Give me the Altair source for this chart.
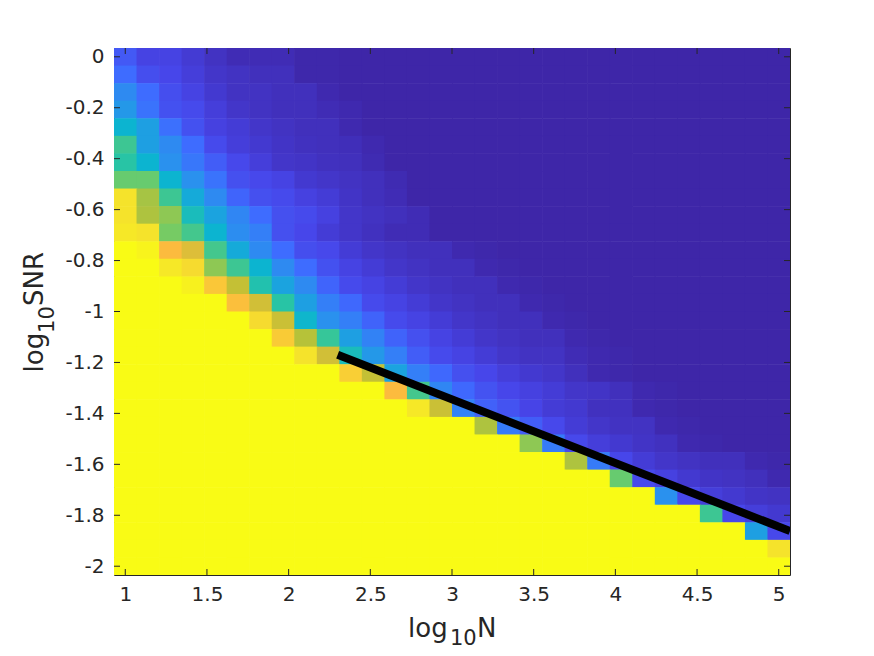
import altair as alt
import pandas as pd

# grid centres (log10 N along x, log10 SNR along y, top row first)
x_centers = [1.0, 1.1379, 1.2759, 1.4138, 1.5517, 1.6897, 1.8276, 1.9655, 2.1034, 2.2414,
             2.3793, 2.5172, 2.6552, 2.7931, 2.9310, 3.0690, 3.2069, 3.3448, 3.4828, 3.6207,
             3.7586, 3.8966, 4.0345, 4.1724, 4.3103, 4.4483, 4.5862, 4.7241, 4.8621, 5.0]
y_centers = [0.0, -0.069, -0.1379, -0.2069, -0.2759, -0.3448, -0.4138, -0.4828, -0.5517, -0.6207,
             -0.6897, -0.7586, -0.8276, -0.8966, -0.9655, -1.0345, -1.1034, -1.1724, -1.2414, -1.3103,
             -1.3793, -1.4483, -1.5172, -1.5862, -1.6552, -1.7241, -1.7931, -1.8621, -1.931, -2.0]

# cell values (one row per y centre, one value per x centre)
prob = [
    [0.15, 0.09, 0.09, 0.065, 0.04, 0.02, 0.02, 0.02, 0.005, 0.005, 0, 0, 0, 0, 0, 0, 0, 0, 0, 0, 0, 0, 0, 0, 0, 0, 0, 0, 0, 0],
    [0.2, 0.12, 0.1, 0.075, 0.05, 0.04, 0.03, 0.03, 0.005, 0.005, 0, 0, 0, 0, 0, 0, 0, 0, 0, 0, 0, 0, 0, 0, 0, 0, 0, 0, 0, 0],
    [0.28, 0.2, 0.12, 0.09, 0.06, 0.04, 0.04, 0.03, 0.03, 0.01, 0, 0, 0, 0, 0, 0, 0, 0, 0, 0, 0, 0, 0, 0, 0, 0, 0, 0, 0, 0],
    [0.32, 0.22, 0.13, 0.11, 0.075, 0.05, 0.04, 0.03, 0.03, 0.02, 0.01, 0, 0, 0, 0, 0, 0, 0, 0, 0, 0, 0, 0, 0, 0, 0, 0, 0, 0, 0],
    [0.4, 0.34, 0.21, 0.13, 0.085, 0.07, 0.05, 0.04, 0.03, 0.03, 0.01, 0, 0, 0, 0, 0, 0, 0, 0, 0, 0, 0, 0, 0, 0, 0, 0, 0, 0, 0],
    [0.53, 0.34, 0.28, 0.2, 0.11, 0.075, 0.06, 0.045, 0.035, 0.03, 0.025, 0.01, 0, 0, 0, 0, 0, 0, 0, 0, 0, 0, 0, 0, 0, 0, 0, 0, 0, 0],
    [0.5, 0.4, 0.3, 0.23, 0.16, 0.105, 0.075, 0.05, 0.045, 0.035, 0.03, 0.015, 0, 0, 0, 0, 0, 0, 0, 0, 0, 0, 0, 0, 0, 0, 0, 0, 0, 0],
    [0.59, 0.59, 0.4, 0.3, 0.22, 0.125, 0.105, 0.09, 0.06, 0.05, 0.04, 0.03, 0.015, 0, 0, 0, 0, 0, 0, 0, 0, 0, 0, 0, 0, 0, 0, 0, 0, 0],
    [0.9, 0.67, 0.53, 0.37, 0.28, 0.18, 0.125, 0.11, 0.085, 0.07, 0.045, 0.03, 0.02, 0, 0, 0, 0, 0, 0, 0, 0, 0, 0, 0, 0, 0, 0, 0, 0, 0],
    [0.9, 0.68, 0.64, 0.45, 0.35, 0.27, 0.2, 0.125, 0.11, 0.085, 0.05, 0.04, 0.03, 0.02, 0, 0, 0, 0, 0, 0, 0, 0, 0, 0, 0, 0, 0, 0, 0, 0],
    [0.92, 0.9, 0.61, 0.54, 0.4, 0.29, 0.25, 0.125, 0.1, 0.07, 0.05, 0.035, 0.02, 0.02, 0, 0, 0, 0, 0, 0, 0, 0, 0, 0, 0, 0, 0, 0, 0, 0],
    [1, 0.97, 0.8, 0.75, 0.54, 0.37, 0.28, 0.2, 0.12, 0.105, 0.07, 0.05, 0.04, 0.03, 0.03, 0.01, 0.005, 0, 0, 0, 0, 0, 0, 0, 0, 0, 0, 0, 0, 0],
    [1, 1, 0.92, 0.88, 0.64, 0.53, 0.4, 0.28, 0.2, 0.13, 0.09, 0.07, 0.05, 0.04, 0.03, 0.03, 0.01, 0.005, 0, 0, 0, 0, 0, 0, 0, 0, 0, 0, 0, 0],
    [1, 1, 1, 0.96, 0.83, 0.71, 0.48, 0.35, 0.28, 0.18, 0.11, 0.09, 0.07, 0.05, 0.04, 0.03, 0.03, 0.01, 0.005, 0, 0, 0, 0, 0, 0, 0, 0, 0, 0, 0],
    [1, 1, 1, 1, 1, 0.81, 0.73, 0.5, 0.34, 0.25, 0.19, 0.11, 0.09, 0.07, 0.05, 0.04, 0.03, 0.03, 0.01, 0.005, 0, 0, 0, 0, 0, 0, 0, 0, 0, 0],
    [1, 1, 1, 1, 1, 1, 0.88, 0.72, 0.41, 0.3, 0.25, 0.175, 0.11, 0.09, 0.07, 0.05, 0.04, 0.03, 0.03, 0.01, 0.005, 0, 0, 0, 0, 0, 0, 0, 0, 0],
    [1, 1, 1, 1, 1, 1, 1, 0.84, 0.69, 0.52, 0.34, 0.26, 0.175, 0.125, 0.09, 0.07, 0.05, 0.04, 0.03, 0.03, 0.01, 0.005, 0, 0, 0, 0, 0, 0, 0, 0],
    [1, 1, 1, 1, 1, 1, 1, 1, 0.9, 0.73, 0.45, 0.32, 0.25, 0.16, 0.11, 0.09, 0.07, 0.05, 0.04, 0.04, 0.02, 0.01, 0.005, 0, 0, 0, 0, 0, 0, 0],
    [1, 1, 1, 1, 1, 1, 1, 1, 1, 1, 0.85, 0.71, 0.35, 0.25, 0.19, 0.125, 0.1, 0.075, 0.06, 0.05, 0.03, 0.01, 0.005, 0, 0, 0, 0, 0, 0, 0],
    [1, 1, 1, 1, 1, 1, 1, 1, 1, 1, 1, 1, 0.8, 0.54, 0.27, 0.19, 0.135, 0.1, 0.085, 0.07, 0.05, 0.045, 0.03, 0.01, 0.005, 0, 0, 0, 0, 0],
    [1, 1, 1, 1, 1, 1, 1, 1, 1, 1, 1, 1, 1, 0.92, 0.72, 0.26, 0.17, 0.135, 0.095, 0.07, 0.06, 0.035, 0.035, 0.01, 0.005, 0, 0, 0, 0, 0],
    [1, 1, 1, 1, 1, 1, 1, 1, 1, 1, 1, 1, 1, 1, 1, 1, 0.68, 0.24, 0.16, 0.105, 0.07, 0.05, 0.04, 0.04, 0.01, 0.005, 0, 0, 0, 0],
    [1, 1, 1, 1, 1, 1, 1, 1, 1, 1, 1, 1, 1, 1, 1, 1, 1, 1, 0.64, 0.24, 0.105, 0.075, 0.06, 0.045, 0.035, 0.01, 0.005, 0, 0, 0],
    [1, 1, 1, 1, 1, 1, 1, 1, 1, 1, 1, 1, 1, 1, 1, 1, 1, 1, 1, 1, 0.68, 0.24, 0.1, 0.07, 0.05, 0.04, 0.03, 0.03, 0.01, 0.005],
    [1, 1, 1, 1, 1, 1, 1, 1, 1, 1, 1, 1, 1, 1, 1, 1, 1, 1, 1, 1, 1, 1, 0.59, 0.11, 0.085, 0.06, 0.045, 0.04, 0.03, 0.01],
    [1, 1, 1, 1, 1, 1, 1, 1, 1, 1, 1, 1, 1, 1, 1, 1, 1, 1, 1, 1, 1, 1, 1, 1, 0.3, 0.105, 0.075, 0.06, 0.045, 0.04],
    [1, 1, 1, 1, 1, 1, 1, 1, 1, 1, 1, 1, 1, 1, 1, 1, 1, 1, 1, 1, 1, 1, 1, 1, 1, 1, 0.53, 0.1, 0.075, 0.06],
    [1, 1, 1, 1, 1, 1, 1, 1, 1, 1, 1, 1, 1, 1, 1, 1, 1, 1, 1, 1, 1, 1, 1, 1, 1, 1, 1, 1, 0.34, 0.105],
    [1, 1, 1, 1, 1, 1, 1, 1, 1, 1, 1, 1, 1, 1, 1, 1, 1, 1, 1, 1, 1, 1, 1, 1, 1, 1, 1, 1, 1, 0.9],
    [1, 1, 1, 1, 1, 1, 1, 1, 1, 1, 1, 1, 1, 1, 1, 1, 1, 1, 1, 1, 1, 1, 1, 1, 1, 1, 1, 1, 1, 1],
]

# black reference line
line_x = [2.3, 5.069]
line_y = [-1.17, -1.862]

x_ticks = [1, 1.5, 2, 2.5, 3, 3.5, 4, 4.5, 5]
y_ticks = [0, -0.2, -0.4, -0.6, -0.8, -1, -1.2, -1.4, -1.6, -1.8, -2]

# parula-like colour stops
cmap_domain = [0, 0.1, 0.2, 0.3, 0.4, 0.5, 0.6, 0.7, 0.8, 0.9, 1.0]
cmap_range = ["#3E26A8", "#4746EA", "#3E6CFF", "#2A91EE", "#0CB4D0", "#28C4A5",
              "#6ECC69", "#BEC134", "#FCBB3E", "#F5E32B", "#F9FB15"]

W, H = 676, 527
HX, HY = 2 / 29, 1 / 29  # half cell width / height in data units
EX, EY = 0.004, 0.002    # tiny overlap so neighbouring cells leave no seams
axis_col = "#262626"
font = "DejaVu Sans"

rows = []
for j, yv in enumerate(y_centers):
    for i, xv in enumerate(x_centers):
        rows.append({"x": xv, "y": yv, "v": prob[j][i]})
grid = pd.DataFrame(rows)

xscale = alt.Scale(domain=[1 - HX, 5 + HX], nice=False, zero=False)
yscale = alt.Scale(domain=[-2 - HY, HY], nice=False, zero=False)
cscale = alt.Scale(domain=cmap_domain, range=cmap_range, interpolate="rgb")

lab = "replace(format(datum.value, '.1~f'), '\u2212', '-')"

xaxis = alt.Axis(values=x_ticks, labelExpr=lab, title=None, ticks=False, tickSize=0,
                 domain=False, grid=False, labelPadding=9, labelFont=font, labelFontSize=20,
                 labelColor=axis_col)
yaxis = alt.Axis(values=y_ticks, labelExpr=lab, title=None, ticks=False, tickSize=0,
                 domain=False, grid=False, labelPadding=10, labelFont=font, labelFontSize=20,
                 labelColor=axis_col)

heat = alt.Chart(grid).transform_calculate(
    x0=f"datum.x - {HX}", x1=f"datum.x + {HX + EX}",
    y0=f"datum.y - {HY + EY}", y1=f"datum.y + {HY}",
).mark_rect(strokeWidth=0, clip=True).encode(
    x=alt.X("x0:Q", scale=xscale, axis=xaxis),
    x2="x1:Q",
    y=alt.Y("y0:Q", scale=yscale, axis=yaxis),
    y2="y1:Q",
    color=alt.Color("v:Q", scale=cscale, legend=None),
)

line = alt.Chart(pd.DataFrame({"x": line_x, "y": line_y})).mark_line(
    color="black", strokeWidth=8, clip=True, strokeCap="butt"
).encode(x=alt.X("x:Q", scale=xscale), y=alt.Y("y:Q", scale=yscale))

xt = pd.DataFrame({"t": x_ticks})
yt = pd.DataFrame({"t": y_ticks})
tick_style = dict(color=axis_col, strokeWidth=1)
xb = alt.Chart(xt).mark_rule(**tick_style).encode(x=alt.X("t:Q", scale=xscale), y=alt.value(H), y2=alt.value(H - 6))
xtp = alt.Chart(xt).mark_rule(**tick_style).encode(x=alt.X("t:Q", scale=xscale), y=alt.value(0), y2=alt.value(6))
yl = alt.Chart(yt).mark_rule(**tick_style).encode(y=alt.Y("t:Q", scale=yscale), x=alt.value(0), x2=alt.value(6))
yr = alt.Chart(yt).mark_rule(**tick_style).encode(y=alt.Y("t:Q", scale=yscale), x=alt.value(W), x2=alt.value(W - 6))

# axis titles: log with subscript 10, built from text pieces
one = pd.DataFrame({"k": [0]})


def piece(txt, size, x, y, angle=0):
    return alt.Chart(one).mark_text(
        text=txt, font=font, fontSize=size, color=axis_col, align="left",
        baseline="alphabetic", angle=angle
    ).encode(x=alt.value(x), y=alt.value(y))


# x title (chart coordinates; plot origin at the top-left of the data rectangle)
xt_log = piece("log", 26, 294, 588.7)
xt_sub = piece("10", 21, 336, 596.5)
xt_n = piece("N", 26, 363, 588.7)
# y title, rotated
yt_log = piece("log", 26, -70.7, 324.5, 270)
yt_sub = piece("10", 21, -60.5, 284.9, 270)
yt_snr = piece("SNR", 26, -70.7, 257.9, 270)

chart = alt.layer(heat, line, xb, xtp, yl, yr, xt_log, xt_sub, xt_n, yt_log, yt_sub, yt_snr).properties(
    width=W, height=H,
    autosize=alt.AutoSizeParams(type="none"),
    padding={"left": 106, "top": 40, "right": 76, "bottom": 73},
    background="white",
).configure_view(stroke=axis_col, strokeWidth=1)

chart.save("out.html", embed_options={"renderer": "svg", "actions": False})
